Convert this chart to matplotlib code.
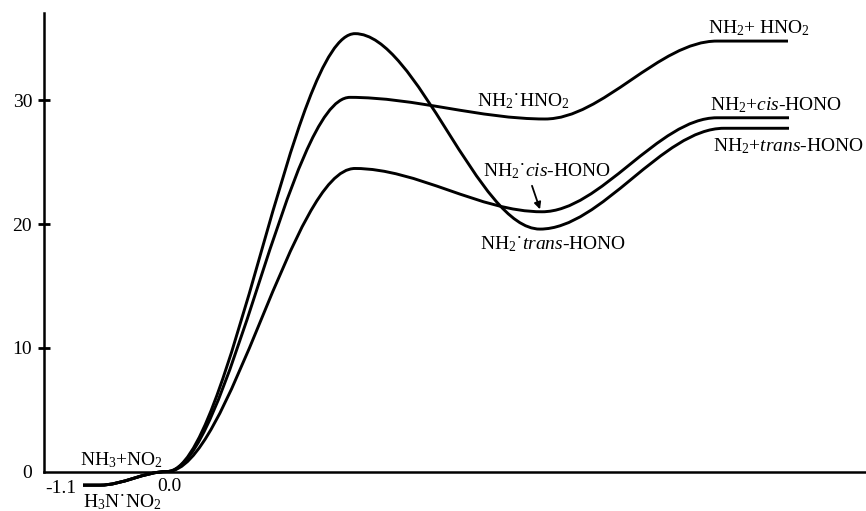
import matplotlib
matplotlib.use('Agg')
import matplotlib.pyplot as plt
from matplotlib.path import Path
from matplotlib.patches import PathPatch

plt.rcParams['font.family'] = ['Liberation Serif', 'DejaVu Serif']
plt.rcParams['mathtext.fontset'] = 'custom'
plt.rcParams['mathtext.rm'] = 'Liberation Serif'
plt.rcParams['mathtext.it'] = 'Liberation Serif:italic'
plt.rcParams['mathtext.default'] = 'rm'

# ---- data: reaction coordinate (arb. units) and relative energies ----
complex_x = [0.39, 0.56]          # H3N.NO2 complex level
complex_E = -1.1
entrance_x = 1.23                 # NH3 + NO2 asymptote
entrance_E = 0.0

# path via highest barrier -> NH2.trans-HONO -> NH2 + trans-HONO
trans_x = [1.23, 3.11, 4.96, 6.80, 7.45]
trans_E = [0.0, 35.4, 19.6, 27.75, 27.75]
# path via middle barrier -> NH2.HNO2 -> NH2 + HNO2
hno2_x = [1.23, 3.06, 5.01, 6.73, 7.44]
hno2_E = [0.0, 30.25, 28.5, 34.8, 34.8]
# path via lowest barrier -> NH2.cis-HONO -> NH2 + cis-HONO
cis_x = [1.23, 3.11, 4.98, 6.73, 7.45]
cis_E = [0.0, 24.5, 21.0, 28.6, 28.6]

y_ticks = [0, 10, 20, 30]
y_ticklabels = ['0', '10', '20', '30']

labels = {
    'hno2_prod': r'NH$_2$+ HNO$_2$',
    'hno2_cplx': r'NH$_2$˙HNO$_2$',
    'cis_prod': r'NH$_2$+$\mathit{cis}$-HONO',
    'trans_prod': r'NH$_2$+$\mathit{trans}$-HONO',
    'cis_cplx': r'NH$_2$˙$\mathit{cis}$-HONO',
    'trans_cplx': r'NH$_2$˙$\mathit{trans}$-HONO',
    'reac': r'NH$_3$+NO$_2$',
    'reac_cplx': r'H$_3$N˙NO$_2$',
    'E_cplx': '-1.1',
    'E_reac': '0.0',
}

fig = plt.figure(figsize=(8.66, 5.11), dpi=100)
ax = fig.add_axes([44 / 866, 0, 822 / 866, 1])
ax.set_xlim(0, 8.22)
ax.set_ylim(-3.19, 38.12)


def profile_path(xs, es):
    verts = [(complex_x[0], complex_E), (complex_x[1], complex_E)]
    codes = [Path.MOVETO, Path.LINETO]
    nodes_x = [complex_x[1]] + list(xs)
    nodes_e = [complex_E] + list(es)
    for i in range(len(nodes_x) - 1):
        x0, y0 = nodes_x[i], nodes_e[i]
        x1, y1 = nodes_x[i + 1], nodes_e[i + 1]
        dx = x1 - x0
        verts += [(x0 + dx / 3, y0), (x1 - dx / 3, y1), (x1, y1)]
        codes += [Path.CURVE4] * 3
    return Path(verts, codes)


for xs, es in [(trans_x, trans_E), (hno2_x, hno2_E), (cis_x, cis_E)]:
    ax.add_patch(PathPatch(profile_path(xs, es), fill=False,
                           lw=2.1, edgecolor='black', capstyle='butt'))

# axes styling
for s in ['top', 'right']:
    ax.spines[s].set_visible(False)
ax.spines['bottom'].set_position(('data', 0))
ax.spines['left'].set_bounds(0, 37.1)
ax.spines['left'].set_linewidth(1.8)
ax.spines['bottom'].set_linewidth(1.8)
ax.set_xticks([])
ax.set_yticks(y_ticks)
ax.set_yticklabels(y_ticklabels, fontsize=14)
ax.tick_params(axis='y', direction='inout', length=9, width=2, pad=4)
ax.yaxis.get_major_ticks()[0].tick1line.set_visible(False)

fs = 14
kw = dict(fontsize=fs, ha='left', va='baseline')
ax.text(6.64, 35.4, labels['hno2_prod'], **kw)
ax.text(4.33, 29.5, labels['hno2_cplx'], **kw)
ax.text(6.66, 29.2, labels['cis_prod'], **kw)
ax.text(6.69, 25.9, labels['trans_prod'], **kw)
ax.text(4.39, 23.9, labels['cis_cplx'], **kw)
ax.text(4.36, 18.0, labels['trans_cplx'], **kw)
ax.text(0.36, 0.53, labels['reac'], **kw)
ax.text(0.39, -2.87, labels['reac_cplx'], **kw)
ax.text(0.01, -1.71, labels['E_cplx'], **kw)
ax.text(1.13, -1.58, labels['E_reac'], **kw)

ax.annotate('', xy=(4.96, 21.2), xytext=(4.88, 23.1),
            arrowprops=dict(arrowstyle='-|>', color='black', lw=1.3,
                            mutation_scale=10, shrinkA=0, shrinkB=0))

fig.savefig('out.png', dpi=100)
